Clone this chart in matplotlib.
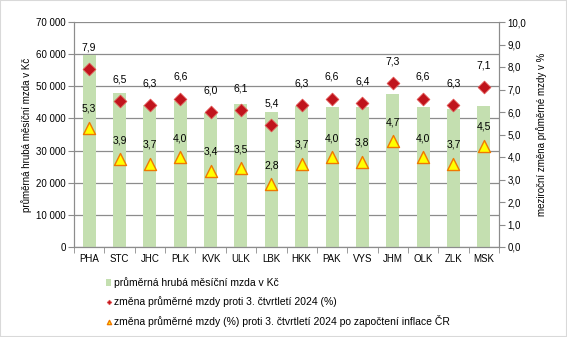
import numpy as np
import matplotlib
matplotlib.use("Agg")
import matplotlib.pyplot as plt
from matplotlib.patches import Rectangle

plt.rcParams['font.family'] = ['Liberation Sans', 'DejaVu Sans']
plt.rcParams['font.size'] = 7

# kraje a hodnoty
kraje = ['PHA', 'STC', 'JHC', 'PLK', 'KVK', 'ULK', 'LBK', 'HKK', 'PAK', 'VYS', 'JHM', 'OLK', 'ZLK', 'MSK']
mzda = [59700, 48000, 44200, 45500, 41800, 44500, 41900, 43900, 43500, 43600, 47600, 43500, 43000, 44000]
zmena = [7.9, 6.5, 6.3, 6.6, 6.0, 6.1, 5.4, 6.3, 6.6, 6.4, 7.3, 6.6, 6.3, 7.1]
zmena_real = [5.3, 3.9, 3.7, 4.0, 3.4, 3.5, 2.8, 3.7, 4.0, 3.8, 4.7, 4.0, 3.7, 4.5]

fig = plt.figure(figsize=(5.67, 3.37), dpi=100)
ax = fig.add_axes([74/567, 1 - 247/337, 425/567, 225/337])
ax2 = ax.twinx()

x = np.arange(len(kraje))
grid_c = '#8c8c8c'

bars = ax.bar(x, mzda, width=0.43, color='#c4dfb0', zorder=2,
              label='průměrná hrubá měsíční mzda v Kč')
ax.set_ylim(0, 70000)
ax.set_xlim(-0.5, len(kraje) - 0.5)
ax.set_yticks(np.arange(0, 70001, 10000))
ax.set_yticklabels([f'{v:,}'.replace(',', ' ') for v in range(0, 70001, 10000)])
ax.yaxis.grid(True, color=grid_c, linewidth=0.9)
ax.set_axisbelow(True)
ax.set_xticks(x)
ax.set_xticklabels(kraje)
ax.set_xticks(np.arange(-0.5, len(kraje)), minor=True)
ax.tick_params(axis='x', which='major', length=0, pad=5)
ax.tick_params(axis='x', which='minor', length=4, color=grid_c)
ax.tick_params(axis='y', length=4, color=grid_c, pad=2)
ax.set_ylabel('průměrná hrubá měsíční mzda v Kč', labelpad=3)

d = ax2.scatter(x, zmena, marker='D', s=42, color='#c0141c', edgecolors='#e05050',
                linewidths=0.6, zorder=4, label='změna průměrné mzdy proti 3. čtvrtletí 2024 (%)')
t = ax2.scatter(x, zmena_real, marker='^', s=75, color='#ffff00', edgecolors='#f07800',
                linewidths=1.0, zorder=4,
                label='změna průměrné mzdy (%) proti 3. čtvrtletí 2024 po započtení inflace ČR')
for xi, v in zip(x, zmena):
    ax2.annotate(f'{v:.1f}'.replace('.', ','), (xi, v), xytext=(0, 12),
                 textcoords='offset points', ha='center', va='bottom', fontsize=7.5)
for xi, v in zip(x, zmena_real):
    ax2.annotate(f'{v:.1f}'.replace('.', ','), (xi, v), xytext=(0, 10),
                 textcoords='offset points', ha='center', va='bottom', fontsize=7.5)

ax2.set_ylim(0, 10)
ax2.set_yticks(np.arange(0, 10.01, 1))
ax2.set_yticklabels([f'{v:.1f}'.replace('.', ',') for v in range(11)])
ax2.tick_params(axis='y', length=4, color=grid_c, pad=2)
ax2.set_ylabel('meziroční změna průměrné mzdy v %', labelpad=7)

for a in (ax, ax2):
    a.spines['top'].set_visible(False)
    for s in ('left', 'right', 'bottom'):
        a.spines[s].set_color(grid_c)

fig.legend(handles=[bars, d, t], loc='upper left', bbox_to_anchor=(102/567, 1 - 273/337),
           frameon=False, fontsize=7.5, handlelength=0.5, handletextpad=0.3,
           labelspacing=0.75, markerscale=0.35, borderaxespad=0)

fig.patches.append(Rectangle((0, 0), 1, 1, transform=fig.transFigure, fill=False,
                             edgecolor='#d9d9d9', linewidth=1.5))
fig.savefig('out.png', dpi=100)
